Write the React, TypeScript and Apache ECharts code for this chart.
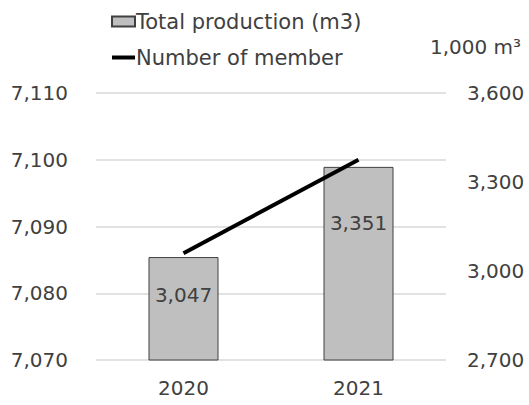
import React, { useEffect, useRef } from "react";
import * as echarts from "echarts";

const categories = ["2020", "2021"];
const production = [3047, 3351];
const members = [7086, 7100];
const leftTicks = { min: 7070, max: 7110, interval: 10 };
const rightTicks = { min: 2700, max: 3600, interval: 300 };

const FONT = "DejaVu Sans";
const TXT = "#404040";
const labelDistances = [28, 46];

const fmt = (v: number) => v.toLocaleString("en-US");

export default function App() {
  const ref = useRef<HTMLDivElement>(null);
  useEffect(() => {
    if (!ref.current) return;
    const chart = echarts.init(ref.current, undefined, { renderer: "svg" });
    chart.setOption({
      animation: false,
      textStyle: { fontFamily: FONT, color: TXT },
      legend: {
        orient: "vertical",
        left: 106,
        top: 6,
        itemGap: 15,
        itemWidth: 23,
        itemHeight: 10,
        textStyle: { fontFamily: FONT, fontSize: 21, color: TXT, padding: [0, 0, 0, -4] },
        data: [
          { name: "Total production (m3)", icon: "rect" },
          { name: "Number of member", icon: "path://M0,0H23V4H0Z" },
        ],
      },
      grid: { left: 96, right: 83, top: 93, bottom: 45 },
      xAxis: {
        type: "category",
        data: categories,
        axisLine: { show: false },
        axisTick: { show: false },
        axisLabel: { fontFamily: FONT, fontSize: 20, color: TXT, margin: 18 },
      },
      yAxis: [
        {
          type: "value",
          min: leftTicks.min,
          max: leftTicks.max,
          interval: leftTicks.interval,
          axisLine: { show: false },
          axisTick: { show: false },
          splitLine: { lineStyle: { color: "#d9d9d9", width: 1.5 } },
          axisLabel: { fontFamily: FONT, fontSize: 20, color: TXT, margin: 28, formatter: fmt },
        },
        {
          type: "value",
          position: "right",
          min: rightTicks.min,
          max: rightTicks.max,
          interval: rightTicks.interval,
          axisLine: { show: false },
          axisTick: { show: false },
          splitLine: { show: false },
          axisLabel: { fontFamily: FONT, fontSize: 20, color: TXT, margin: 21, formatter: fmt },
          name: "1,000 m³",
          nameLocation: "end",
          nameGap: 36,
          nameTextStyle: { fontFamily: FONT, fontSize: 20, color: TXT, align: "left", padding: [0, 0, 0, -16] },
        },
      ],
      series: [
        {
          name: "Total production (m3)",
          type: "bar",
          yAxisIndex: 1,
          barWidth: "40%",
          itemStyle: { color: "#bfbfbf", borderColor: "#404040", borderWidth: 1 },
          data: production.map((v, i) => ({
            value: v,
            label: { distance: labelDistances[i] },
          })),
          label: {
            show: true,
            position: "insideTop",
            fontFamily: FONT,
            fontSize: 20,
            color: TXT,
            formatter: (p: any) => fmt(p.value),
          },
          z: 1,
        },
        {
          name: "Number of member",
          type: "line",
          yAxisIndex: 0,
          data: members,
          symbol: "none",
          lineStyle: { color: "#000000", width: 4 },
          itemStyle: { color: "#000000" },
          z: 3,
        },
      ],
    });
    return () => chart.dispose();
  }, []);
  return (
    <div
      ref={ref}
      style={{ position: "absolute", left: 0, top: 0, width: 529, height: 405 }}
    />
  );
}
